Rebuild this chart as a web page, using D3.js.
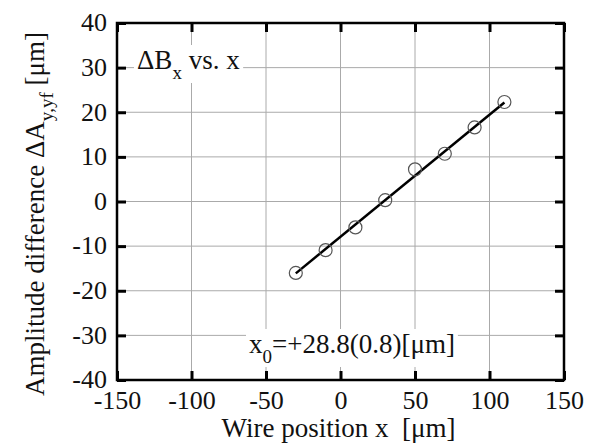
<!DOCTYPE html>
<html>
<head>
<meta charset="utf-8">
<script src="https://cdn.jsdelivr.net/npm/d3@7"></script>
<style>
  body { margin: 0; background: #fff; }
  text { font-family: "Liberation Serif", "Times New Roman", serif; fill: #111; }
</style>
</head>
<body>
<div id="chart"></div>
<script>
// measured points
const wirePos = [-30, -10, 10, 30, 50, 70, 90, 110];
const ampDiff = [-16.0, -10.9, -5.8, 0.3, 7.2, 10.7, 16.6, 22.3];
// fitted line end points
const fitX = [-30, 110];
const fitY = [-16.1, 22.2];
const xTicks = [-150, -100, -50, 0, 50, 100, 150];
const yTicks = [-40, -30, -20, -10, 0, 10, 20, 30, 40];

const W = 591, H = 445;
const margin = { top: 23, right: 27, bottom: 65, left: 117 };
const width = W - margin.left - margin.right;
const height = H - margin.top - margin.bottom;
const fs = 27;

const svg = d3.select("#chart").append("svg")
  .attr("width", W).attr("height", H);
const g = svg.append("g")
  .attr("transform", "translate(" + margin.left + "," + margin.top + ")");

const x = d3.scaleLinear().domain([-150, 150]).range([0, width]);
const y = d3.scaleLinear().domain([-40, 40]).range([height, 0]);

// grid
g.append("g").selectAll("line").data(xTicks.slice(1, -1)).enter().append("line")
  .attr("x1", d => x(d)).attr("x2", d => x(d))
  .attr("y1", 0).attr("y2", height)
  .attr("stroke", "#aaa").attr("stroke-width", 1);
g.append("g").selectAll("line").data(yTicks.slice(1, -1)).enter().append("line")
  .attr("y1", d => y(d)).attr("y2", d => y(d))
  .attr("x1", 0).attr("x2", width)
  .attr("stroke", "#aaa").attr("stroke-width", 1);

// axes with inward ticks
const tickLen = 9;
const fmt = d => String(d);
const xb = g.append("g").attr("transform", "translate(0," + height + ")")
  .call(d3.axisBottom(x).tickValues(xTicks).tickFormat(fmt).tickSizeInner(-tickLen).tickSizeOuter(0).tickPadding(11));
const yl = g.append("g")
  .call(d3.axisLeft(y).tickValues(yTicks).tickFormat(fmt).tickSizeInner(-tickLen).tickSizeOuter(0).tickPadding(10));
g.append("g")
  .call(d3.axisTop(x).tickValues(xTicks).tickSizeInner(-tickLen).tickSizeOuter(0).tickFormat(""));
g.append("g").attr("transform", "translate(" + width + ",0)")
  .call(d3.axisRight(y).tickValues(yTicks).tickSizeInner(-tickLen).tickSizeOuter(0).tickFormat(""));

g.selectAll(".domain").remove();
g.selectAll(".tick line").attr("stroke", "#000").attr("stroke-width", 3);
g.selectAll(".tick text").style("font-size", "26px").attr("fill", "#111");
xb.selectAll(".tick text").attr("dy", "0.71em");
yl.selectAll(".tick text").attr("dy", "0.3em");

// frame
g.append("rect").attr("width", width).attr("height", height)
  .attr("fill", "none").attr("stroke", "#000").attr("stroke-width", 2.5);

// fit line
const line = d3.line().x(d => x(d[0])).y(d => y(d[1]));
g.append("path").datum(d3.zip(fitX, fitY))
  .attr("d", line).attr("fill", "none").attr("stroke", "#000").attr("stroke-width", 2.5);

// markers
g.selectAll("circle.pt").data(d3.zip(wirePos, ampDiff)).enter().append("circle")
  .attr("class", "pt")
  .attr("cx", d => x(d[0])).attr("cy", d => y(d[1]))
  .attr("r", 6.5).attr("fill", "none").attr("stroke", "#555").attr("stroke-width", 1.2);

// annotations with white backing
function label(tx, ty, build) {
  const t = g.append("text").attr("x", tx).attr("y", ty).style("font-size", fs + "px");
  build(t);
  const bb = t.node().getBBox();
  g.insert("rect", () => t.node())
    .attr("x", bb.x - 3).attr("y", bb.y).attr("width", bb.width + 6).attr("height", bb.height)
    .attr("fill", "#fff");
}
label(20, 46, t => {
  t.append("tspan").text("\u0394B");
  t.append("tspan").attr("dy", 10).style("font-size", "19px").text("x");
  t.append("tspan").attr("dy", -10).text(" vs. x");
});
label(132, 330, t => {
  t.append("tspan").text("x");
  t.append("tspan").attr("dy", 10).style("font-size", "19px").text("0");
  t.append("tspan").attr("dy", -10).text("=+28.8(0.8)[\u03bcm]");
});

// axis titles
svg.append("text").attr("x", margin.left + width / 2 - 2).attr("y", 437)
  .attr("text-anchor", "middle").style("font-size", fs + "px")
  .attr("xml:space", "preserve")
  .text("Wire position x  [\u03bcm]");

const yt = svg.append("text")
  .attr("transform", "translate(44,214) rotate(-90)")
  .attr("text-anchor", "middle").style("font-size", fs + "px");
yt.append("tspan").text("Amplitude difference \u0394A");
yt.append("tspan").attr("dy", 9).style("font-size", "19px").text("y,yf");
yt.append("tspan").attr("dy", -9).text(" [\u03bcm]");
</script>
</body>
</html>
